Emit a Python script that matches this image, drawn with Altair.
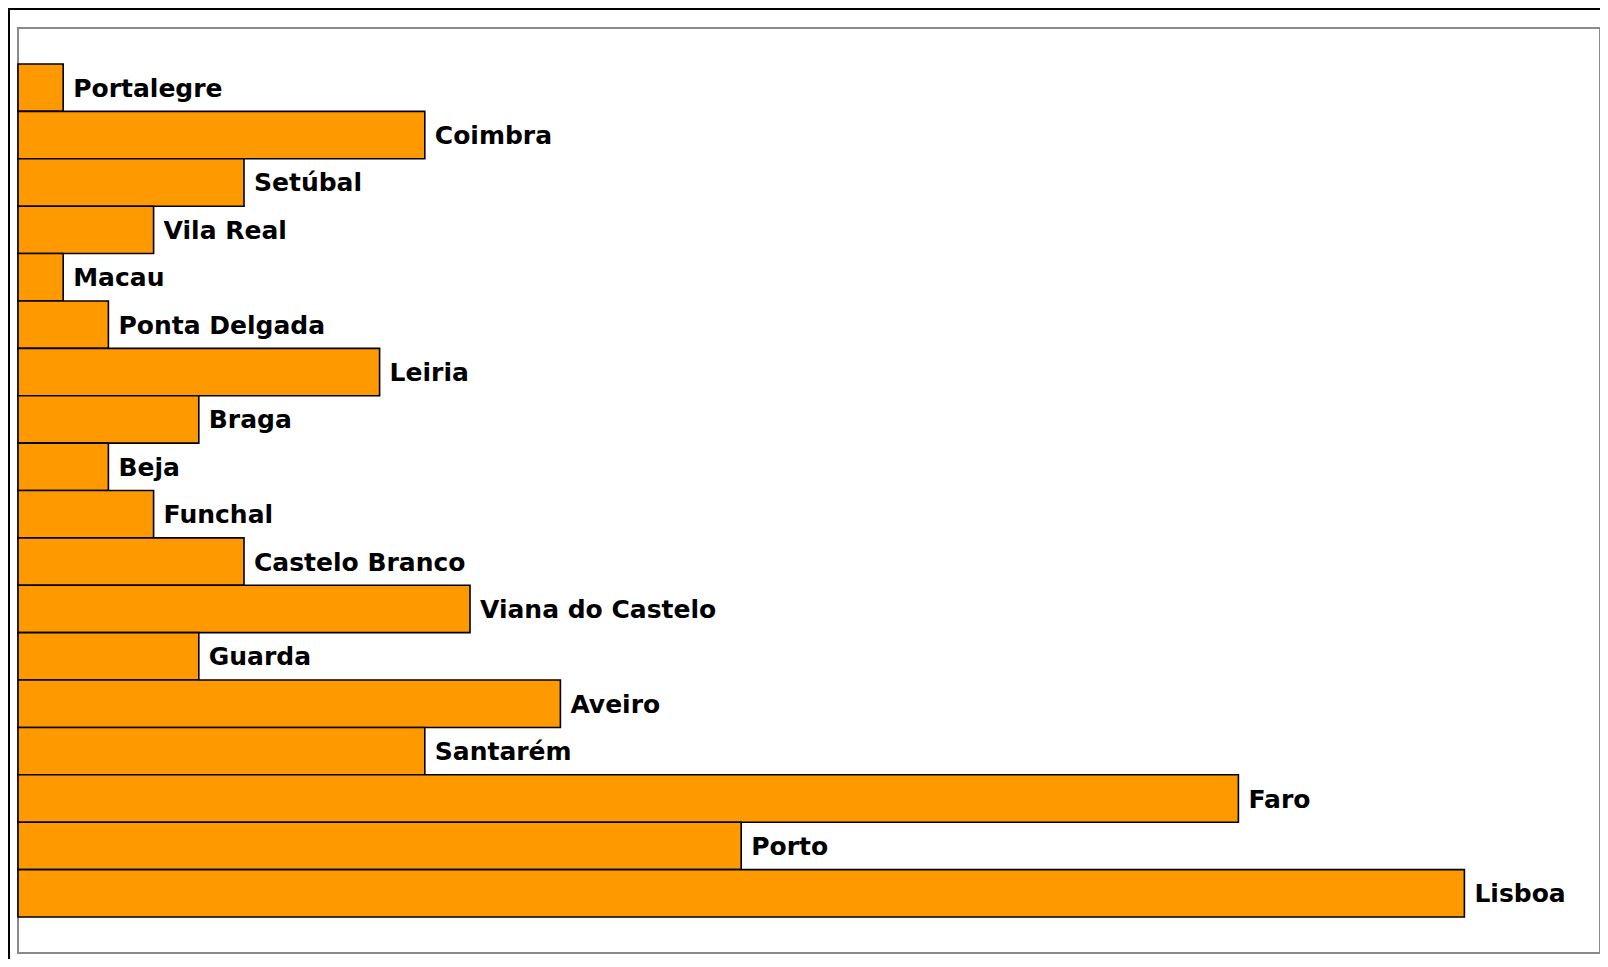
import altair as alt
import pandas as pd

cities = ["Portalegre", "Coimbra", "Setúbal", "Vila Real", "Macau", "Ponta Delgada",
          "Leiria", "Braga", "Beja", "Funchal", "Castelo Branco", "Viana do Castelo",
          "Guarda", "Aveiro", "Santarém", "Faro", "Porto", "Lisboa"]
values = [1, 9, 5, 3, 1, 2, 8, 4, 2, 3, 5, 10, 4, 12, 9, 27, 16, 32]

df = pd.DataFrame({"city": cities, "value": values})

W, H = 1582, 925

x = alt.X("value:Q", scale=alt.Scale(domain=[0, 35], nice=False, zero=True), axis=None)
y = alt.Y("city:N", sort=cities,
          scale=alt.Scale(paddingInner=0, paddingOuter=0.76), axis=None)

bars = alt.Chart(df).mark_bar(color="#FF9900", stroke="#000000", strokeWidth=1.6).encode(x=x, y=y)

labels = alt.Chart(df).mark_text(
    align="left", baseline="middle", dx=10, dy=1,
    font="DejaVu Sans", fontWeight="bold", fontSize=25, color="#000000"
).encode(x=x, y=y, text="city:N")

frame_left = alt.Chart(pd.DataFrame({"a": [0]})).mark_rule(
    color="#000000", strokeWidth=2
).encode(x=alt.value(-9), y=alt.value(-19), y2=alt.value(H + 40))

frame_top = alt.Chart(pd.DataFrame({"a": [0]})).mark_rule(
    color="#000000", strokeWidth=2
).encode(x=alt.value(-10), x2=alt.value(W + 20), y=alt.value(-19))

chart = alt.layer(bars, labels, frame_left, frame_top).properties(
    width=W, height=H,
    autosize=alt.AutoSizeParams(type="none"),
    padding={"left": 10, "top": 20, "right": 0, "bottom": 6},
    background="#FFFFFF",
).configure_view(stroke="#8A8A8A", strokeWidth=2)

chart.save("out.html", embed_options={"renderer": "svg", "actions": False})
